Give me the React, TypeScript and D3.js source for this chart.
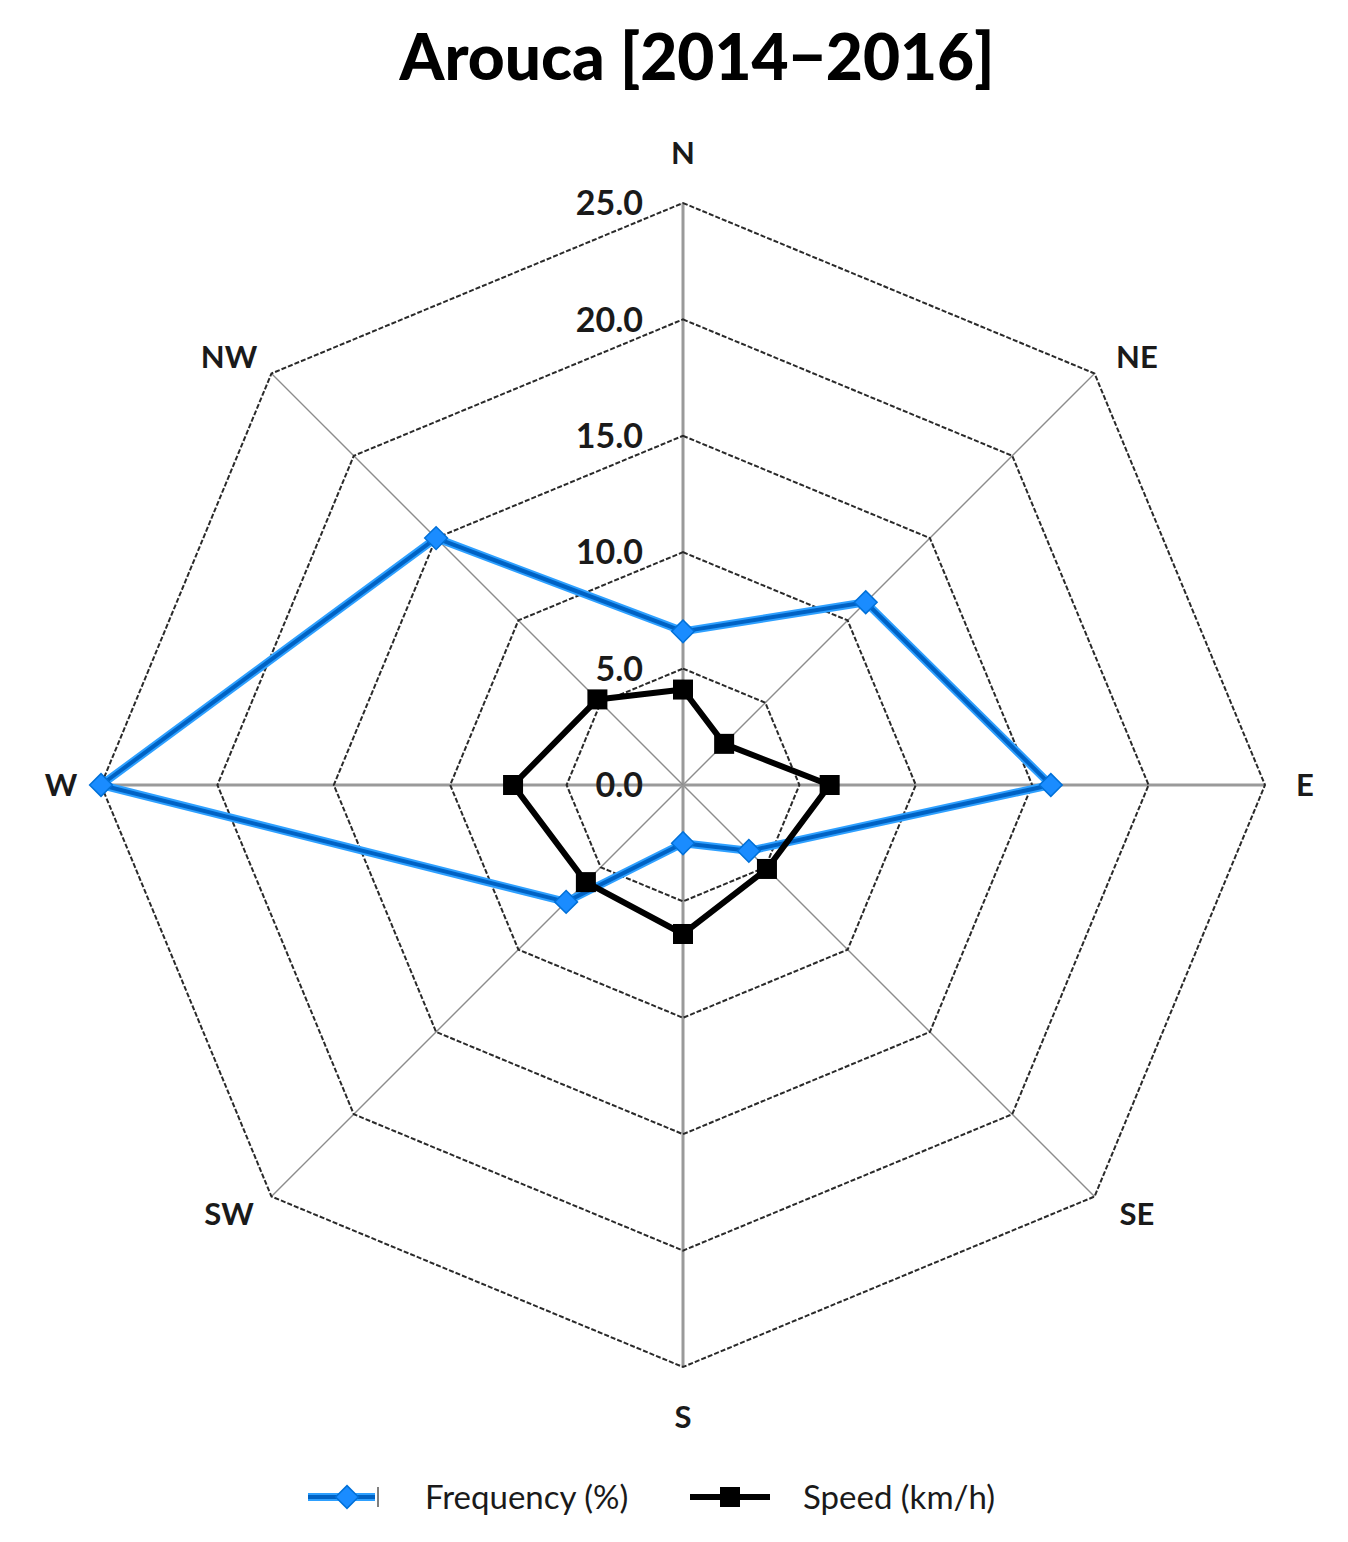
import { useEffect, useRef } from 'react';
import * as d3 from 'd3';

const directions = ['N', 'NE', 'E', 'SE', 'S', 'SW', 'W', 'NW'];
const frequency = [6.6, 11.1, 15.8, 4.0, 2.5, 7.1, 25.0, 15.0];
const speed = [4.1, 2.5, 6.3, 5.1, 6.4, 5.9, 7.3, 5.2];
const ticks = [0, 5, 10, 15, 20, 25];
const tickLabels = ['0.0', '5.0', '10.0', '15.0', '20.0', '25.0'];
const seriesNames = ['Frequency (%)', 'Speed (km/h)'];

const W = 1348;
const H = 1542;
const cx = 683;
const cy = 785;
const R = 582;
const font = 'Lato, "Open Sans", sans-serif';

export default function App() {
    const ref = useRef<SVGSVGElement>(null);

    useEffect(() => {
        const svg = d3.select(ref.current);
        svg.selectAll('*').remove();

        const r = d3.scaleLinear().domain([0, 25]).range([0, R]);
        const angle = d3.scalePoint<string>()
            .domain(directions)
            .range([0, 2 * Math.PI * (directions.length - 1) / directions.length]);

        const g = svg.append('g').attr('transform', `translate(${cx},${cy})`);

        // spokes
        directions.forEach(d => {
            const a = angle(d)!;
            const main = Math.abs(Math.sin(a)) < 0.01 || Math.abs(Math.cos(a)) < 0.01;
            g.append('line')
                .attr('x1', 0).attr('y1', 0)
                .attr('x2', r(25) * Math.sin(a))
                .attr('y2', -r(25) * Math.cos(a))
                .attr('stroke', main ? '#9a9a9a' : '#8c8c8c')
                .attr('stroke-width', main ? 3 : 1.4);
        });

        // rings
        const ringLine = d3.lineRadial<string>()
            .angle(d => angle(d)!)
            .curve(d3.curveLinearClosed);
        ticks.filter(t => t > 0).forEach(t => {
            g.append('path')
                .attr('d', ringLine.radius(() => r(t))(directions))
                .attr('fill', 'none')
                .attr('stroke', '#2a2a2a')
                .attr('stroke-width', 2)
                .attr('stroke-dasharray', '5,2');
        });

        // tick labels
        ticks.forEach((t, i) => {
            g.append('text')
                .attr('x', -40)
                .attr('y', -r(t))
                .attr('dy', '0.36em')
                .attr('text-anchor', 'end')
                .attr('font-family', font)
                .attr('font-weight', 700)
                .attr('font-size', 34)
                .attr('fill', '#1a1a1a')
                .text(tickLabels[i]);
        });

        // direction labels
        directions.forEach(d => {
            const a = angle(d)!;
            const s = Math.sin(a);
            const c = Math.cos(a);
            const diag = Math.abs(s) > 0.1 && Math.abs(c) > 0.1;
            const x = r(25) * s + s * (diag ? 60 : 40);
            const y = -r(25) * c - c * (diag ? 24 : 50);
            g.append('text')
                .attr('x', x)
                .attr('y', y)
                .attr('dy', '0.36em')
                .attr('text-anchor', 'middle')
                .attr('font-family', font)
                .attr('font-weight', 700)
                .attr('font-size', 31)
                .attr('fill', '#1a1a1a')
                .text(d);
        });

        const valueLine = d3.lineRadial<number>()
            .angle((_, i) => angle(directions[i])!)
            .radius(v => r(v))
            .curve(d3.curveLinearClosed);

        // frequency series
        g.append('path')
            .attr('d', valueLine(frequency))
            .attr('fill', 'none')
            .attr('stroke', '#2ea0ff')
            .attr('stroke-width', 8)
            .attr('stroke-linejoin', 'round');
        g.append('path')
            .attr('d', valueLine(frequency))
            .attr('fill', 'none')
            .attr('stroke', '#0062c4')
            .attr('stroke-width', 4)
            .attr('stroke-linejoin', 'round');

        // speed series
        g.append('path')
            .attr('d', valueLine(speed))
            .attr('fill', 'none')
            .attr('stroke', '#000')
            .attr('stroke-width', 6)
            .attr('stroke-linejoin', 'round');

        const diamond = d3.symbol().type(d3.symbolDiamond2).size(330);
        frequency.forEach((v, i) => {
            const a = angle(directions[i])!;
            g.append('path')
                .attr('d', diamond()!)
                .attr('transform', `translate(${r(v) * Math.sin(a)},${-r(v) * Math.cos(a)})`)
                .attr('fill', '#1a8cff')
                .attr('stroke', '#0070d8')
                .attr('stroke-width', 1.5);
        });
        speed.forEach((v, i) => {
            const a = angle(directions[i])!;
            g.append('rect')
                .attr('x', r(v) * Math.sin(a) - 10)
                .attr('y', -r(v) * Math.cos(a) - 10)
                .attr('width', 20)
                .attr('height', 20)
                .attr('fill', '#000');
        });

        // title
        svg.append('text')
            .attr('x', 697)
            .attr('y', 80)
            .attr('text-anchor', 'middle')
            .attr('font-family', font)
            .attr('font-weight', 900)
            .attr('font-size', 64)
            .attr('fill', '#000')
            .text('Arouca [2014\u22122016]');

        // legend
        const ly = 1497;
        const lg = svg.append('g');
        lg.append('line').attr('x1', 308).attr('x2', 375).attr('y1', ly).attr('y2', ly)
            .attr('stroke', '#2ea0ff').attr('stroke-width', 8);
        lg.append('line').attr('x1', 308).attr('x2', 375).attr('y1', ly).attr('y2', ly)
            .attr('stroke', '#0062c4').attr('stroke-width', 4);
        lg.append('path').attr('d', diamond()!).attr('transform', `translate(347,${ly})`)
            .attr('fill', '#1a8cff').attr('stroke', '#0070d8').attr('stroke-width', 1.5);
        lg.append('line').attr('x1', 378).attr('x2', 378).attr('y1', ly - 10).attr('y2', ly + 10)
            .attr('stroke', '#555').attr('stroke-width', 1.5);
        lg.append('text').attr('x', 425).attr('y', ly).attr('dy', '0.36em')
            .attr('font-family', font).attr('font-size', 33).attr('fill', '#1a1a1a')
            .text(seriesNames[0]);

        lg.append('line').attr('x1', 690).attr('x2', 770).attr('y1', ly).attr('y2', ly)
            .attr('stroke', '#000').attr('stroke-width', 6);
        lg.append('rect').attr('x', 720).attr('y', ly - 10).attr('width', 20).attr('height', 20)
            .attr('fill', '#000');
        lg.append('text').attr('x', 803).attr('y', ly).attr('dy', '0.36em')
            .attr('font-family', font).attr('font-size', 33).attr('fill', '#1a1a1a')
            .text(seriesNames[1]);
    }, []);

    return (
        <svg ref={ref} width={W} height={H}
            style={{ position: 'absolute', left: 0, top: 0, background: '#fff' }} />
    );
}
